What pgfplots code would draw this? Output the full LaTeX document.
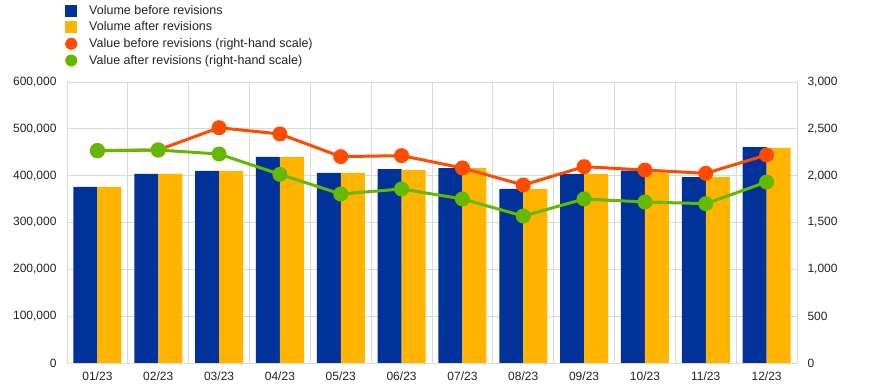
\documentclass[border=0pt]{standalone}
\usepackage{pgfplots}
\pgfplotsset{compat=1.18}
\usepackage{fontspec}
\setmainfont{Liberation Sans}
\definecolor{ecbblue}{HTML}{003299}
\definecolor{ecbyellow}{HTML}{FFB400}
\definecolor{ecborange}{HTML}{FF4B00}
\definecolor{ecbgreen}{HTML}{65B800}
\definecolor{gridgray}{HTML}{D9D9D9}
\definecolor{txt}{HTML}{222222}
\begin{document}
\begin{tikzpicture}[font=\fontsize{12}{14}\selectfont]
\pgfplotsset{
  common/.style={
    scale only axis, width=730pt, height=281pt,
    xmin=-0.5, xmax=11.5,
    major tick length=0pt, minor tick length=0pt,
    tick label style={font=\fontsize{12}{14}\selectfont, text=txt},
    scaled y ticks=false,
  }
}
\begin{axis}[common, name=ax,
  ymin=0, ymax=600000, ytick={0,100000,200000,300000,400000,500000,600000},
  yticklabels={0,{100,000},{200,000},{300,000},{400,000},{500,000},{600,000}},
  xtick={0,...,11},
  xticklabels={01/23,02/23,03/23,04/23,05/23,06/23,07/23,08/23,09/23,10/23,11/23,12/23},
  minor xtick={-0.5,0.5,...,11.5},
  ymajorgrids, xminorgrids,
  grid style={gridgray, line width=0.8pt},
  minor grid style={gridgray, line width=0.8pt},
  axis line style={gridgray, line width=0.8pt},
  yticklabel style={xshift=-7pt},
  xticklabel style={yshift=-5pt},
  ybar=0pt, bar width=24pt,
]
\addplot[fill=ecbblue, draw=none] coordinates {
(0,376000) (1,404000) (2,410000) (3,440000) (4,406000) (5,414000)
(6,416000) (7,372000) (8,404000) (9,411000) (10,397000) (11,461000)};
\addplot[fill=ecbyellow, draw=none] coordinates {
(0,376000) (1,404000) (2,410000) (3,440000) (4,406000) (5,412000)
(6,416000) (7,372000) (8,404000) (9,407000) (10,397000) (11,459000)};
\end{axis}
\begin{axis}[common,
  ymin=0, ymax=3000, ytick={0,500,1000,1500,2000,2500,3000},
  yticklabels={0,500,{1,000},{1,500},{2,000},{2,500},{3,000}},
  axis y line*=right, axis x line=none,
  axis line style={gridgray, line width=0.8pt},
  yticklabel style={xshift=7pt},
  legend style={draw=none, fill=none, at={(0,1)}, anchor=south west,
    xshift=-2pt, yshift=14pt, font=\fontsize{12.5}{14}\selectfont,
    row sep=2.1pt, inner sep=0pt, text=txt},
  legend cell align=left,
]
\addlegendimage{legend image code/.code={\fill[ecbblue, draw=none] (0pt,-6pt) rectangle (12pt,6pt); \path[draw=none, fill=none] (0pt,0pt) -- (22pt,0pt);}}
\addlegendentry{Volume before revisions}
\addlegendimage{legend image code/.code={\fill[ecbyellow, draw=none] (0pt,-6pt) rectangle (12pt,6pt); \path[draw=none, fill=none] (0pt,0pt) -- (22pt,0pt);}}
\addlegendentry{Volume after revisions}
\addplot[ecborange, line width=3pt, mark=*, mark size=6pt, mark options={fill=ecborange, draw=none},
  legend image code/.code={\fill[ecborange, draw=none] (6pt,0pt) circle (6pt); \path[draw=none, fill=none] (0pt,0pt) -- (22pt,0pt);}] coordinates {
(0,2266) (1,2274) (2,2512) (3,2445) (4,2203) (5,2214)
(6,2082) (7,1900) (8,2096) (9,2060) (10,2025) (11,2221)};
\addlegendentry{Value before revisions (right-hand scale)}
\addplot[ecbgreen, line width=3pt, mark=*, mark size=6pt, mark options={fill=ecbgreen, draw=none},
  legend image code/.code={\fill[ecbgreen, draw=none] (6pt,0pt) circle (6pt); \path[draw=none, fill=none] (0pt,0pt) -- (22pt,0pt);}] coordinates {
(0,2268) (1,2274) (2,2231) (3,2014) (4,1804) (5,1858)
(6,1751) (7,1569) (8,1751) (9,1719) (10,1701) (11,1932)};
\addlegendentry{Value after revisions (right-hand scale)}
\end{axis}
\pgfresetboundingbox
\path (ax.south west)+(-67pt,-27pt) coordinate (bl);
\path (ax.north east)+(77pt,82pt) coordinate (tr);
\path (bl) rectangle (tr);
\end{tikzpicture}
\end{document}
